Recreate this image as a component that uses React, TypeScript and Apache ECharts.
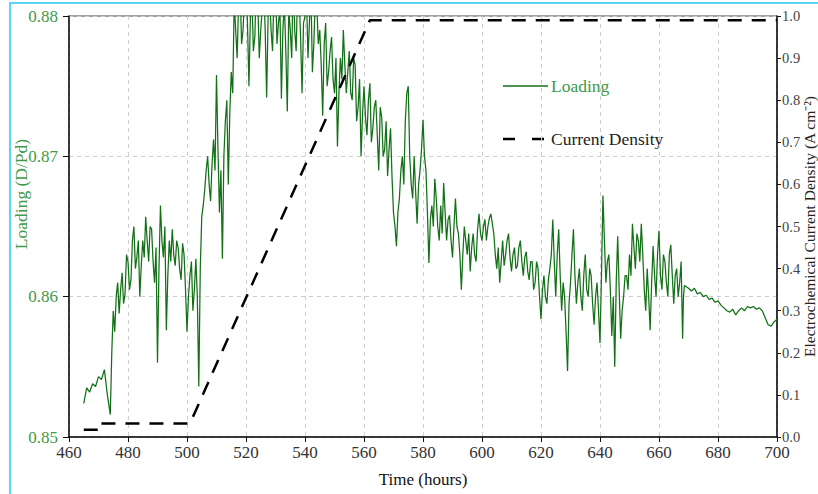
import React, { useEffect, useRef } from "react";
import * as echarts from "echarts";

const xTicks = { min: 460, max: 700, interval: 20 };
const loadingTicks = { min: 0.85, max: 0.88, interval: 0.01 };
const densityTicks = { min: 0, max: 1, interval: 0.1 };

// [hour, loading D/Pd]
const loading: [number, number][] = [
  [465, 0.8524], [466, 0.8535], [467, 0.8532], [468, 0.8538], [469, 0.8536], [470, 0.8543],
  [471, 0.8541], [472, 0.8548], [473, 0.8530], [474, 0.8516], [474.5, 0.8560], [475, 0.8590],
  [475.5, 0.8575], [476, 0.8600], [476.5, 0.8610], [477, 0.8588], [477.5, 0.8605], [478, 0.8617],
  [478.5, 0.8595], [479, 0.8602], [479.5, 0.8630], [480, 0.8625], [480.5, 0.8605], [481, 0.8612],
  [481.5, 0.8640], [482, 0.8650], [482.5, 0.8620], [483, 0.8628], [483.5, 0.8640], [484, 0.8600],
  [484.5, 0.8622], [485, 0.8640], [485.5, 0.8628], [486, 0.8657], [486.5, 0.8640], [487, 0.8625],
  [487.5, 0.8650], [488, 0.8648], [488.5, 0.8625], [489, 0.8610], [489.5, 0.8635], [490, 0.8553],
  [490.5, 0.8620], [491, 0.8665], [491.5, 0.8640], [492, 0.8628], [492.5, 0.8650], [493, 0.8576],
  [493.5, 0.8615], [494, 0.8640], [494.5, 0.8625], [495, 0.8648], [495.5, 0.8630], [496, 0.8622],
  [496.5, 0.8640], [497, 0.8635], [497.5, 0.8620], [498, 0.8612], [498.5, 0.8638], [499, 0.8630],
  [499.5, 0.8605], [500, 0.8575], [500.5, 0.8600], [501, 0.8615], [501.5, 0.8625], [502, 0.8590],
  [502.5, 0.8605], [503, 0.8627], [503.5, 0.8600], [504, 0.8536], [504.5, 0.8620], [505, 0.8657],
  [505.5, 0.8665], [506, 0.8676], [506.5, 0.8690], [507, 0.8700], [507.5, 0.8680], [508, 0.8668],
  [508.5, 0.8695], [509, 0.8712], [509.5, 0.8690], [510, 0.8758], [510.5, 0.8705], [511, 0.8660],
  [511.5, 0.8690], [512, 0.8627], [512.5, 0.8700], [513, 0.8725], [513.5, 0.8740], [514, 0.8680],
  [514.5, 0.8730], [515, 0.8760], [515.5, 0.8745], [516, 0.8810], [516.5, 0.8790], [517, 0.8770],
  [517.5, 0.8810], [518, 0.8820], [518.5, 0.8780], [519, 0.8790], [519.5, 0.8815], [520, 0.8830],
  [520.5, 0.8795], [521, 0.8750], [521.5, 0.8800], [522, 0.8815], [522.5, 0.8775], [523, 0.8785],
  [523.5, 0.8825], [524, 0.8810], [524.5, 0.8770], [525, 0.8790], [525.5, 0.8805], [526, 0.8820],
  [526.5, 0.8790], [527, 0.8742], [527.5, 0.8800], [528, 0.8815], [528.5, 0.8790], [529, 0.8775],
  [529.5, 0.8820], [530, 0.8825], [530.5, 0.8780], [531, 0.8795], [531.5, 0.8805], [532, 0.8741],
  [532.5, 0.8790], [533, 0.8810], [533.5, 0.8775], [534, 0.8732], [534.5, 0.8805], [535, 0.8790],
  [535.5, 0.8770], [536, 0.8830], [536.5, 0.8790], [537, 0.8775], [537.5, 0.8820], [538, 0.8815],
  [538.5, 0.8785], [539, 0.8745], [539.5, 0.8795], [540, 0.8800], [540.5, 0.8815], [541, 0.8770],
  [541.5, 0.8795], [542, 0.8820], [542.5, 0.8760], [543, 0.8780], [543.5, 0.8815], [544, 0.8808],
  [544.5, 0.8780], [545, 0.8790], [545.5, 0.8765], [546, 0.8729], [546.5, 0.8780], [547, 0.8795],
  [547.5, 0.8750], [548, 0.8760], [548.5, 0.8775], [549, 0.8785], [549.5, 0.8755], [550, 0.8745],
  [550.5, 0.8770], [551, 0.8707], [551.5, 0.8745], [552, 0.8770], [552.5, 0.8755], [553, 0.8790],
  [553.5, 0.8765], [554, 0.8745], [554.5, 0.8760], [555, 0.8775], [555.5, 0.8745], [556, 0.8740],
  [556.5, 0.8770], [557, 0.8765], [557.5, 0.8725], [558, 0.8735], [558.5, 0.8755], [559, 0.8700],
  [559.5, 0.8730], [560, 0.8750], [560.5, 0.8728], [561, 0.8715], [561.5, 0.8740], [562, 0.8752],
  [562.5, 0.8710], [563, 0.8720], [563.5, 0.8735], [564, 0.8740], [564.5, 0.8715], [565, 0.8690],
  [565.5, 0.8735], [566, 0.8728], [566.5, 0.8700], [567, 0.8705], [567.5, 0.8725], [568, 0.8686],
  [568.5, 0.8705], [569, 0.8720], [569.5, 0.8685], [570, 0.8660], [570.5, 0.8650], [571, 0.8636],
  [571.5, 0.8660], [572, 0.8670], [572.5, 0.8690], [573, 0.8700], [573.5, 0.8680], [574, 0.8725],
  [574.5, 0.8745], [575, 0.8750], [575.5, 0.8700], [576, 0.8680], [576.5, 0.8670], [577, 0.8700],
  [577.5, 0.8675], [578, 0.8652], [578.5, 0.8680], [579, 0.8690], [579.5, 0.8705], [580, 0.8726],
  [580.5, 0.8700], [581, 0.8690], [581.5, 0.8660], [582, 0.8624], [582.5, 0.8655], [583, 0.8665],
  [583.5, 0.8650], [584, 0.8684], [584.5, 0.8670], [585, 0.8650], [585.5, 0.8640], [586, 0.8665],
  [586.5, 0.8645], [587, 0.8681], [587.5, 0.8660], [588, 0.8640], [588.5, 0.8655], [589, 0.8658],
  [589.5, 0.8640], [590, 0.8628], [590.5, 0.8650], [591, 0.8670], [591.5, 0.8650], [592, 0.8645],
  [592.5, 0.8630], [593, 0.8605], [593.5, 0.8630], [594, 0.8650], [594.5, 0.8640], [595, 0.8630],
  [595.5, 0.8645], [596, 0.8618], [596.5, 0.8635], [597, 0.8645], [597.5, 0.8630], [598, 0.8625],
  [598.5, 0.8648], [599, 0.8659], [599.5, 0.8645], [600, 0.8640], [600.5, 0.8650], [601, 0.8655],
  [601.5, 0.8640], [602, 0.8650], [602.5, 0.8656], [603, 0.8659], [603.5, 0.8652], [604, 0.8645],
  [604.5, 0.8630], [605, 0.8620], [605.5, 0.8635], [606, 0.8610], [606.5, 0.8625], [607, 0.8640],
  [607.5, 0.8622], [608, 0.8630], [608.5, 0.8640], [609, 0.8645], [609.5, 0.8628], [610, 0.8618],
  [610.5, 0.8630], [611, 0.8635], [611.5, 0.8620], [612, 0.8622], [612.5, 0.8635], [613, 0.8640],
  [613.5, 0.8625], [614, 0.8615], [614.5, 0.8628], [615, 0.8632], [615.5, 0.8618], [616, 0.8612],
  [616.5, 0.8625], [617, 0.8625], [617.5, 0.8605], [618, 0.8610], [618.5, 0.8625], [619, 0.8620],
  [619.5, 0.8600], [620, 0.8584], [620.5, 0.8605], [621, 0.8615], [621.5, 0.8600], [622, 0.8595],
  [622.5, 0.8612], [623, 0.8620], [623.5, 0.8630], [624, 0.8655], [624.5, 0.8625], [625, 0.8600],
  [625.5, 0.8630], [626, 0.8648], [626.5, 0.8615], [627, 0.8590], [627.5, 0.8610], [628, 0.8600],
  [628.5, 0.8575], [629, 0.8547], [629.5, 0.8595], [630, 0.8610], [630.5, 0.8630], [631, 0.8648],
  [631.5, 0.8615], [632, 0.8595], [632.5, 0.8610], [633, 0.8620], [633.5, 0.8600], [634, 0.8590],
  [634.5, 0.8615], [635, 0.8630], [635.5, 0.8605], [636, 0.8600], [636.5, 0.8620], [637, 0.8615],
  [637.5, 0.8595], [638, 0.8580], [638.5, 0.8600], [639, 0.8610], [639.5, 0.8590], [640, 0.8567],
  [640.5, 0.8615], [641, 0.8672], [641.5, 0.8640], [642, 0.8610], [642.5, 0.8625], [643, 0.8630],
  [643.5, 0.8605], [644, 0.8572], [644.5, 0.8600], [645, 0.8550], [645.5, 0.8610], [646, 0.8643],
  [646.5, 0.8605], [647, 0.8570], [647.5, 0.8590], [648, 0.8600], [648.5, 0.8615], [649, 0.8615],
  [649.5, 0.8605], [650, 0.8630], [650.5, 0.8615], [651, 0.8652], [651.5, 0.8635], [652, 0.8620],
  [652.5, 0.8645], [653, 0.8640], [653.5, 0.8625], [654, 0.8652], [654.5, 0.8630], [655, 0.8605],
  [655.5, 0.8590], [656, 0.8620], [656.5, 0.8600], [657, 0.8576], [657.5, 0.8610], [658, 0.8636],
  [658.5, 0.8615], [659, 0.8600], [659.5, 0.8630], [660, 0.8647], [660.5, 0.8615], [661, 0.8605],
  [661.5, 0.8630], [662, 0.8625], [662.5, 0.8610], [663, 0.8600], [663.5, 0.8630], [664, 0.8637],
  [664.5, 0.8615], [665, 0.8595], [665.5, 0.8615], [666, 0.8620], [666.5, 0.8600], [667, 0.8610],
  [667.5, 0.8625], [668, 0.8570], [668.3, 0.8600], [668.6, 0.8608], [670, 0.8606], [671, 0.8604],
  [672, 0.8606], [673, 0.8602], [674, 0.8603], [675, 0.8600], [676, 0.8601], [677, 0.8598],
  [678, 0.8599], [679, 0.8596], [680, 0.8597], [681, 0.8594], [682, 0.8592], [683, 0.8590],
  [684, 0.8589], [685, 0.8591], [686, 0.8587], [687, 0.8590], [688, 0.8592], [689, 0.8590],
  [690, 0.8593], [691, 0.8592], [692, 0.8593], [693, 0.8591], [694, 0.8592], [695, 0.8590],
  [696, 0.8585], [697, 0.8580], [698, 0.8579], [699, 0.8582], [700, 0.8584],
];

// [hour, current density A cm^-2]
const currentDensity: [number, number][] = [
  [465, 0.017], [470.8, 0.017], [470.8, 0.032], [501, 0.032], [562, 0.99], [700, 0.99],
];

const legendItems = ["Loading", "Current Density"];

const GREEN = "#127016";
const LABEL_GREEN = "#3f9a4c";
const FONT = "Liberation Serif";

export default function App() {
  const ref = useRef<HTMLDivElement>(null);
  useEffect(() => {
    document.body.style.margin = "0";
    const chart = echarts.init(ref.current!, null, { renderer: "svg" });
    const split = { show: true, lineStyle: { color: "#cfcfcf", type: [4, 4], width: 1 } };
    chart.setOption({
      animation: false,
      backgroundColor: "#ffffff",
      textStyle: { fontFamily: FONT },
      grid: {
        left: 69, right: 41, top: 16, bottom: 57,
        outerBoundsMode: "none",
        containLabel: false,
        show: true, borderColor: "#444", borderWidth: 1, backgroundColor: "transparent",
      },
      xAxis: {
        type: "value",
        min: xTicks.min, max: xTicks.max, interval: xTicks.interval,
        name: "Time (hours)",
        nameLocation: "middle",
        nameGap: 34,
        nameTextStyle: { fontFamily: FONT, fontSize: 17, color: "#111" },
        axisLine: { lineStyle: { color: "#111", width: 1.5 } },
        axisTick: { show: true, length: 5, lineStyle: { color: "#111" } },
        axisLabel: { fontFamily: FONT, fontSize: 17, color: "#333", margin: 7 },
        splitLine: split,
      },
      yAxis: [
        {
          type: "value",
          min: loadingTicks.min, max: loadingTicks.max, interval: loadingTicks.interval,
          position: "left",
          axisLine: { show: true, lineStyle: { color: "#111", width: 1.5 } },
          axisTick: { show: true, length: 6, lineStyle: { color: "#111" } },
          axisLabel: {
            fontFamily: FONT, fontSize: 17, color: LABEL_GREEN, margin: 11,
            formatter: (v: number) => v.toFixed(2),
          },
          splitLine: split,
        },
        {
          type: "value",
          min: densityTicks.min, max: densityTicks.max, interval: densityTicks.interval,
          position: "right",
          name: "Electrochemical Current Density (A cm⁻²)",
          nameLocation: "middle",
          nameGap: 24,
          nameRotate: 90,
          nameMoveOverlap: false,
          nameTextStyle: { fontFamily: FONT, fontSize: 15.5, color: "#222" },
          axisLine: { show: true, lineStyle: { color: "#111", width: 1.5 } },
          axisTick: { show: true, length: 4, lineStyle: { color: "#111" } },
          axisLabel: {
            fontFamily: FONT, fontSize: 14.5, color: "#444", margin: 5,
            formatter: (v: number) => v.toFixed(1),
          },
          splitLine: { show: false },
        },
      ],
      graphic: [
        {
          type: "rect",
          shape: { x: 10, y: 3, width: 900, height: 600 },
          style: { fill: "none", stroke: "#5ad6f3", lineWidth: 2 },
          silent: true,
        },
        {
          type: "text",
          x: 21,
          y: 194,
          rotation: Math.PI / 2,
          style: {
            text: "Loading (D/Pd)",
            fill: LABEL_GREEN,
            font: `17.5px "${FONT}"`,
            align: "center",
            verticalAlign: "middle",
          },
        },
        {
          type: "line",
          shape: { x1: 503, y1: 86, x2: 548, y2: 86 },
          style: { stroke: GREEN, lineWidth: 1.3 },
        },
        {
          type: "text",
          x: 551,
          y: 86,
          style: {
            text: legendItems[0], fill: LABEL_GREEN, font: `17.5px "${FONT}"`,
            align: "left", verticalAlign: "middle",
          },
        },
        {
          type: "line",
          shape: { x1: 503, y1: 139, x2: 548, y2: 139 },
          style: { stroke: "#000", lineWidth: 2.5, lineDash: [12, 17] },
        },
        {
          type: "text",
          x: 551,
          y: 139,
          style: {
            text: legendItems[1], fill: "#222", font: `17.5px "${FONT}"`,
            align: "left", verticalAlign: "middle",
          },
        },
      ],
      series: [
        {
          name: "Loading",
          type: "line",
          xAxisIndex: 0,
          yAxisIndex: 0,
          data: loading,
          showSymbol: false,
          symbol: "none",
          clip: true,
          lineStyle: { color: GREEN, width: 1.25 },
          itemStyle: { color: GREEN },
          z: 3,
        },
        {
          name: "Current Density",
          type: "line",
          xAxisIndex: 0,
          yAxisIndex: 1,
          data: currentDensity,
          showSymbol: false,
          symbol: "none",
          lineStyle: { color: "#000", width: 2.5, type: [14, 10] },
          itemStyle: { color: "#000" },
          z: 4,
        },
      ],
    });
    return () => chart.dispose();
  }, []);
  return <div ref={ref} style={{ width: 818, height: 494 }} />;
}
